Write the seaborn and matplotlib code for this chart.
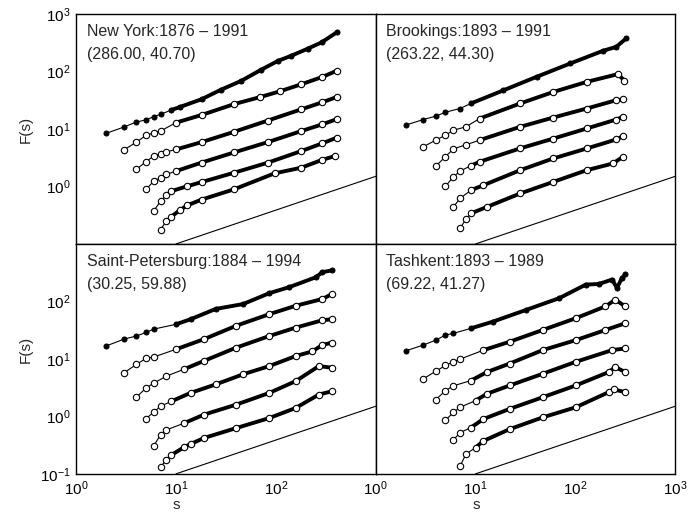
import matplotlib
matplotlib.use("Agg")
import matplotlib.pyplot as plt
import pandas as pd
import seaborn as sns
from matplotlib.ticker import NullLocator, FixedLocator, LogFormatterMathtext

# ---------------- data ----------------
ny_s = [
    [2, 3, 4, 5, 6, 7, 9, 11, 18, 28, 45, 71, 105, 143, 210, 287, 407],
    [3, 4, 5, 6, 7, 10, 18, 38, 70, 109, 180, 290, 407],
    [4, 5, 6, 7, 8, 10, 18, 38, 83, 180, 290, 407],
    [5, 6, 7, 8, 10, 18, 38, 83, 180, 290, 407],
    [6, 7, 8, 9, 13, 18, 38, 83, 180, 290, 407],
    [7, 8, 9, 11, 13, 18, 38, 97, 180, 287, 390],
]
ny_F = [
    [8.4, 10.8, 13.2, 14.4, 16.4, 18.0, 21.4, 24.2, 32.9, 47.9, 68.7, 107, 153, 188, 251, 321, 479],
    [4.3, 5.9, 7.7, 8.6, 9.2, 12.9, 17.5, 27, 36, 45, 60, 80, 103],
    [1.98, 2.7, 3.4, 3.7, 4.0, 4.4, 5.9, 8.9, 14, 22, 29, 36],
    [0.89, 1.24, 1.42, 1.62, 1.85, 2.6, 3.9, 5.9, 9.2, 12, 14.8],
    [0.38, 0.555, 0.70, 0.83, 1.01, 1.19, 1.73, 2.59, 4.13, 5.6, 7.06],
    [0.178, 0.25, 0.30, 0.39, 0.47, 0.59, 0.89, 1.69, 2.12, 2.88, 3.38],
]

br_s = [
    [2, 3, 4, 5, 7, 9, 19, 41, 89, 189, 257, 322],
    [3, 4, 5, 6, 8, 11, 28, 60, 130, 267, 310],
    [4, 5, 6, 8, 11, 28, 60, 130, 257, 299],
    [5, 6, 7, 9, 11, 28, 60, 130, 257, 299],
    [6, 7, 9, 12, 28, 60, 130, 257, 299],
    [7, 8, 9, 13, 28, 60, 130, 238, 299],
]
br_F = [
    [11.7, 14.6, 16.7, 19.6, 22.7, 27.8, 47, 81, 138, 229, 269, 375],
    [4.9, 6.4, 7.8, 9.5, 10.9, 15.2, 27.8, 44, 66, 90, 69],
    [2.26, 3.3, 4.5, 5.3, 6.4, 10.9, 15.8, 22.7, 31.7, 32.6],
    [1.01, 1.47, 1.85, 2.3, 2.69, 4.6, 6.8, 10.2, 14.6, 16.3],
    [0.44, 0.62, 0.86, 1.05, 1.92, 3.07, 4.58, 6.57, 7.5],
    [0.186, 0.27, 0.34, 0.44, 0.755, 1.2, 1.92, 2.51, 3.28],
]

sp_s = [
    [2, 3, 4, 5, 6, 10, 14, 25, 47, 86, 136, 251, 292, 367],
    [3, 4, 5, 6, 10, 19, 40, 86, 158, 292, 367],
    [4, 5, 6, 8, 12, 19, 40, 86, 158, 292, 367],
    [5, 6, 7, 9, 14, 25, 47, 86, 158, 232, 292, 367],
    [6, 7, 8, 12, 19, 40, 86, 158, 270, 367],
    [7, 8, 9, 12, 14, 19, 40, 86, 158, 270, 367],
]
sp_F = [
    [16.8, 22, 25, 28.8, 33, 40, 49, 74, 90, 139, 177, 263, 323, 347],
    [5.7, 8.0, 10.2, 10.8, 14.7, 22, 37.7, 60, 84, 110, 135],
    [2.15, 3.1, 3.8, 5.0, 6.6, 9.2, 15.7, 25, 35, 47, 49],
    [0.91, 1.19, 1.5, 1.83, 2.56, 3.6, 5.4, 7.5, 11.2, 13.5, 17.5, 19.2],
    [0.31, 0.48, 0.58, 0.76, 1.07, 1.6, 2.56, 4.1, 7.5, 7.0],
    [0.133, 0.174, 0.213, 0.29, 0.33, 0.42, 0.625, 0.935, 1.4, 2.4, 2.74],
]

ta_s = [
    [2, 3, 4, 5, 6, 9, 15, 32, 69, 127, 172, 233, 261, 293, 316],
    [3, 4, 5, 6, 7, 12, 22, 47, 101, 200, 251, 316],
    [4, 5, 6, 9, 13, 22, 47, 101, 200, 316],
    [5, 6, 7, 10, 13, 22, 47, 101, 233, 316],
    [6, 7, 9, 12, 22, 47, 101, 216, 251, 316],
    [7, 8, 10, 12, 22, 47, 101, 216, 242, 316],
]
ta_F = [
    [13.8, 17.4, 21.2, 26, 27.8, 34, 44.6, 71, 114, 196, 201, 240, 171, 257, 294],
    [4.5, 6.1, 7.7, 8.9, 9.9, 14.2, 19.9, 31.8, 51, 82, 107, 82],
    [1.96, 2.8, 3.4, 4.2, 5.9, 8.3, 14.2, 21.2, 31.8, 41.7],
    [0.86, 1.17, 1.44, 1.88, 2.47, 3.45, 5.5, 8.9, 14.2, 15.2],
    [0.39, 0.52, 0.64, 0.90, 1.35, 2.15, 3.45, 5.9, 7.2, 5.9],
    [0.136, 0.22, 0.286, 0.374, 0.6, 0.96, 1.44, 2.64, 2.94, 2.64],
]

panel_titles = ["New York:1876 \u2013 1991", "Brookings:1893 \u2013 1991",
                "Saint-Petersburg:1884 \u2013 1994", "Tashkent:1893 \u2013 1989"]
panel_coords = ["(286.00, 40.70)", "(263.22, 44.30)", "(30.25, 59.88)", "(69.22, 41.27)"]
ref_s = [10, 1000]
ref_F = [0.1, 1.5]

# ---------------- style ----------------
sns.set_style("white")
plt.rcParams["font.family"] = ["Liberation Sans", "DejaVu Sans"]
plt.rcParams["axes.linewidth"] = 1.0
plt.rcParams["axes.edgecolor"] = "black"

fig = plt.figure(figsize=(6.99, 5.19), dpi=100)
axes = fig.subplots(2, 2)
fig.subplots_adjust(left=0.109, right=0.966, top=0.973, bottom=0.087, wspace=0, hspace=0)

panels = [(ny_s, ny_F), (br_s, br_F), (sp_s, sp_F), (ta_s, ta_F)]

for idx, ax in enumerate(axes.flat):
    ax.set_xscale("log")
    ax.set_yscale("log")
    S, F = panels[idx]
    for k, (s_list, f_list) in enumerate(zip(S, F)):
        df = pd.DataFrame({"s": s_list, "F": f_list})
        band = df[df["s"] >= 9]
        sns.lineplot(data=band, x="s", y="F", ax=ax, color="black", lw=2.8,
                     estimator=None, sort=False)
        if k == 0:
            sns.lineplot(data=df, x="s", y="F", ax=ax, color="black", lw=0.8,
                         marker="o", markersize=3.6, markerfacecolor="black",
                         markeredgecolor="black", estimator=None, sort=False)
        else:
            sns.lineplot(data=df, x="s", y="F", ax=ax, color="black", lw=0.8,
                         marker="o", markersize=4.6, markerfacecolor="white",
                         markeredgecolor="black", markeredgewidth=0.8,
                         estimator=None, sort=False)
    sns.lineplot(x=ref_s, y=ref_F, ax=ax, color="black", lw=0.8)

    ax.set_xlim(1, 1000)
    ax.set_ylim(0.1, 1000)
    ax.xaxis.set_minor_locator(NullLocator())
    ax.yaxis.set_minor_locator(NullLocator())
    ax.tick_params(which="major", direction="in", length=4, width=0.8,
                   labelsize=11, top=False, right=False, colors="black", pad=4)
    ax.set_xlabel("")
    ax.set_ylabel("")
    row, col = divmod(idx, 2)
    # ticks / labels
    if row == 0:
        ax.xaxis.set_major_locator(FixedLocator([10, 100]))
        ax.tick_params(labelbottom=False)
    else:
        ax.xaxis.set_major_locator(FixedLocator([1, 10, 100] if col == 0 else [1, 10, 100, 1000]))
        ax.xaxis.set_major_formatter(LogFormatterMathtext())
        ax.set_xlabel("s", fontsize=11)
        ax.xaxis.set_label_coords(0.335, -0.105)
    if col == 0:
        ax.yaxis.set_major_locator(FixedLocator([1, 10, 100, 1000] if row == 0 else [0.1, 1, 10, 100]))
        ax.yaxis.set_major_formatter(LogFormatterMathtext())
        ax.set_ylabel("F(s)", fontsize=11)
        ax.yaxis.set_label_coords(-0.145, 0.5 if row == 0 else 0.54)
    else:
        ax.yaxis.set_major_locator(FixedLocator([1, 10, 100]))
        ax.tick_params(labelleft=False)
    for sp in ax.spines.values():
        sp.set_visible(True)
        sp.set_color("black")
        sp.set_linewidth(1.0)

    ax.text(0.035, 0.955, panel_titles[idx], transform=ax.transAxes, fontsize=11.5,
            ha="left", va="top")
    ax.text(0.035, 0.855, panel_coords[idx], transform=ax.transAxes, fontsize=11.5,
            ha="left", va="top")

fig.savefig("out.png", dpi=100)
